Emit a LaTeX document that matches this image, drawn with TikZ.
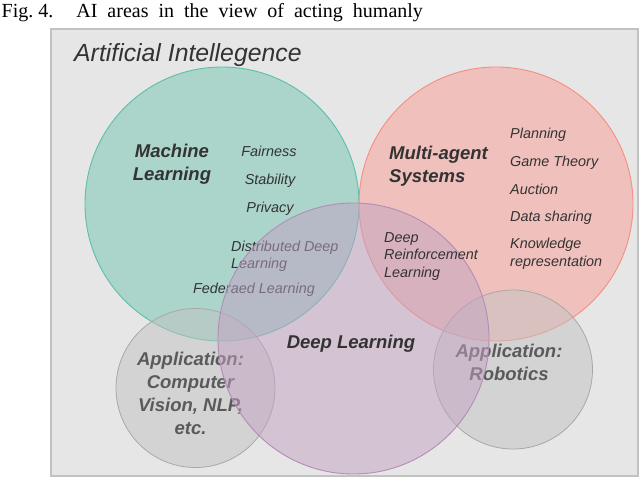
\documentclass[tikz,border=0pt]{standalone}
\usepackage{fontspec}
\setmainfont{Liberation Serif}
\setsansfont{Liberation Sans}
\usepackage{tikz}

\definecolor{boxgray}{HTML}{E6E6E6}
\definecolor{boxedge}{HTML}{C2C2C2}
\definecolor{textdark}{HTML}{333333}
\definecolor{appgray}{HTML}{5A5A5A}
\definecolor{mlfill}{HTML}{72C4B2}
\definecolor{mledge}{HTML}{5BBFA9}
\definecolor{masfill}{HTML}{FA9E94}
\definecolor{masedge}{HTML}{F58E82}
\definecolor{dlfill}{HTML}{C2A2C2}
\definecolor{dledge}{HTML}{B48CB8}
\definecolor{appfill}{HTML}{C2C2C2}
\definecolor{appedge}{HTML}{A8A8A8}

\begin{document}
\begin{tikzpicture}[x=1pt, y=-1pt,
    every node/.style={inner sep=0pt, text=textdark},
    item/.style={font=\sffamily\itshape\fontsize{14.4}{17.5}\selectfont},
    area/.style={font=\sffamily\bfseries\itshape\fontsize{18.5}{23}\selectfont},
    app/.style={area, text=appgray, align=center},
    blob/.style={fill opacity=0.5, line width=0.9pt}]
\useasboundingbox (0,0) rectangle (640,477);

\node[anchor=base west, font=\rmfamily\fontsize{20}{24}\selectfont, text=black] (caption) at (1.5,17)
    {\spaceskip=10pt Fig.\hspace{5pt}4.\hspace{23pt}AI areas in the view of acting humanly};

\draw[fill=boxgray, draw=boxedge, line width=1.2pt] (51,29) rectangle (638,476);
\node[anchor=base west, font=\sffamily\itshape\fontsize{24.8}{28}\selectfont] (ai) at (74,61.5) {Artificial Intellegence};

% machine learning
\fill[blob, fill=mlfill] (222,204) circle[radius=137pt];
\draw[mledge, line width=0.9pt] (222,204) circle[radius=137pt];
\node[area, align=center] (ml) at (172,164) {Machine\\Learning};
\node[item] (fair) at (269,151) {Fairness};
\node[item] (stab) at (270,181) {Stability};
\node[item] (priv) at (270,209) {Privacy};
\node[item, anchor=west, align=left] (ddl) at (231,256.5) {Distributed Deep\\Learning};
\node[item] (fl) at (254,290) {Federaed Learning};

% multi-agent systems
\fill[blob, fill=masfill] (496,204) circle[radius=137pt];
\draw[masedge, line width=0.9pt] (496,204) circle[radius=137pt];
\node[area, anchor=west, align=left] (mas) at (389,166.5) {Multi-agent\\Systems};
\node[item, anchor=west] (plan) at (510,135) {Planning};
\node[item, anchor=west] (game) at (510,163) {Game Theory};
\node[item, anchor=west] (auct) at (510,189) {Auction};
\node[item, anchor=west] (share) at (510,218) {Data sharing};
\node[item, anchor=west, align=left] (know) at (510,254) {Knowledge\\representation};

% applications
\fill[blob, fill=appfill] (195.5,388) circle[radius=79.5pt];
\draw[appedge, line width=0.8pt] (195.5,388) circle[radius=79.5pt];
\node[app] (appcv) at (190.5,393.5) {Application:\\Computer\\Vision, NLP,\\etc.};
\fill[blob, fill=appfill] (513,369.5) circle[radius=79.5pt];
\draw[appedge, line width=0.8pt] (513,369.5) circle[radius=79.5pt];
\node[app] (apprb) at (509,362.5) {Application:\\Robotics};

% deep learning
\fill[blob, fill=dlfill] (353.5,338.5) circle[radius=135.5pt];
\draw[dledge, line width=0.9pt] (353.5,338.5) circle[radius=135.5pt];
\node[area] (dl) at (351,344) {Deep Learning};
\node[item, anchor=west, align=left] (drl) at (384,256.5) {Deep\\Reinforcement\\Learning};
\end{tikzpicture}
\end{document}
